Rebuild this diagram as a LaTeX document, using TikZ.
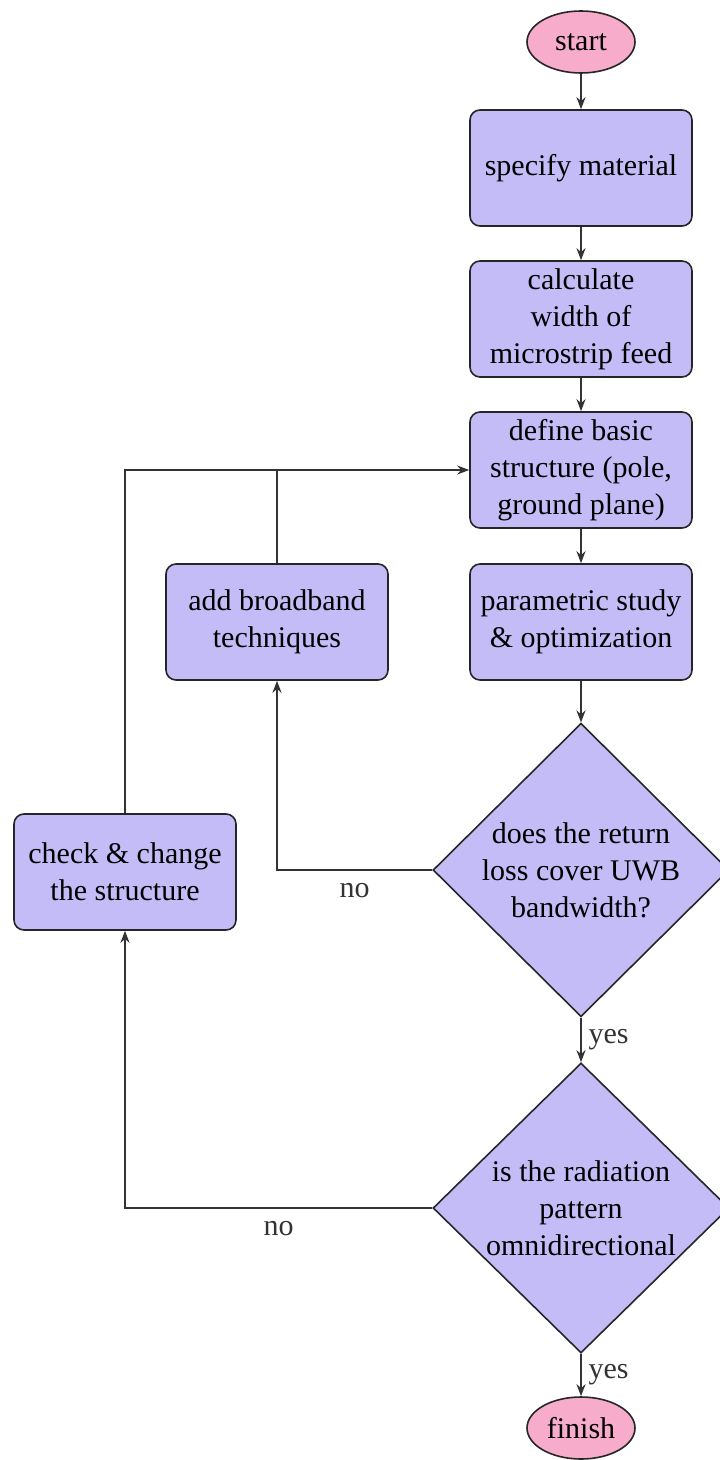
\documentclass[tikz,border=0pt]{standalone}
\usepackage{fontspec}
\setmainfont{Liberation Serif}
\usetikzlibrary{shapes.geometric, arrows.meta}
\definecolor{boxfill}{RGB}{196,188,247}
\definecolor{endfill}{RGB}{246,172,202}
\tikzset{
  >={Stealth[length=6pt, width=4.5pt]},
  every node/.style={font=\fontsize{15}{18.5}\selectfont},
  process/.style={rectangle, rounded corners=5pt, draw=black!85, thick,
    fill=boxfill, minimum width=111pt, minimum height=58pt, align=center},
  decision/.style={diamond, draw=black!85, thick, fill=boxfill, aspect=1,
    minimum width=148pt, minimum height=145pt, inner sep=0pt, align=center},
  terminal/.style={ellipse, draw=black!85, thick, fill=endfill,
    minimum width=54pt, minimum height=31pt, inner sep=0pt},
  flow/.style={->, line width=1pt, black!80},
}

\begin{document}
\begin{tikzpicture}[x=0.5pt, y=0.5pt]
      \useasboundingbox (0,0) rectangle (719,-1460);

      \node[terminal] (start) at (581,-42) {start};
      \node[process] (material) at (581,-168) {specify material};
      \node[process] (width) at (581,-319) {calculate\\width of\\microstrip feed};
      \node[process] (basic) at (581,-470) {define basic\\structure (pole,\\ground plane)};
      \node[process] (study) at (581,-622) {parametric study\\\& optimization};
      \node[process] (broad) at (277,-622) {add broadband\\techniques};
      \node[decision] (loss) at (581,-870) {does the return\\loss cover UWB\\bandwidth?};
      \node[process] (check) at (125,-872) {check \& change\\the structure};
      \node[decision] (omni) at (581,-1208) {is the radiation\\pattern\\omnidirectional};
      \node[terminal] (finish) at (581,-1428) {finish};

      \draw[flow] (start) -- (material);
      \draw[flow] (material) -- (width);
      \draw[flow] (width) -- (basic);
      \draw[flow] (basic) -- (study);
      \draw[flow] (study) -- (loss);
      \draw[flow] (loss) -- node[right]{yes} (omni);
      \draw[flow] (omni) -- node[right]{yes} (finish);

      \draw[flow] (loss.west) -| node[pos=0.25, below=3pt]{no} (broad.south);
      \draw[flow, -] (broad.north) -- (broad.north |- basic.west);
      \draw[flow] (check.north) |- (basic.west);
      \draw[flow] (omni.west) -| node[pos=0.25, below=3pt]{no} (check.south);
    \end{tikzpicture}
\end{document}
